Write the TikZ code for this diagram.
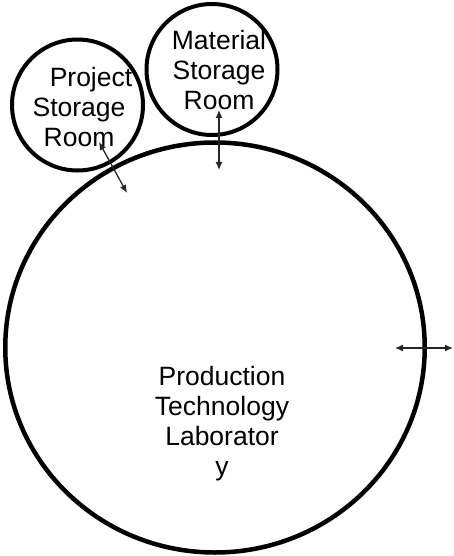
\documentclass[tikz,border=0pt]{standalone}
\usepackage{fontspec}
\setmainfont{Liberation Sans}
\usetikzlibrary{shapes.geometric,arrows.meta}

\tikzset{
  room/.style={draw, circle, line width=4pt, inner sep=0pt, minimum size=131pt},
  roomtext/.style={align=center, inner sep=0pt, font=\fontsize{26.5}{30}\selectfont},
  door/.style={line width=1.3pt, black!85, {Latex[length=8pt,width=7pt]}-{Latex[length=8pt,width=7pt]}}
}

\begin{document}
\begin{tikzpicture}[x=1pt,y=-1pt]

  \useasboundingbox (0,0) rectangle (454,556);

  % the laboratory
  \node[draw, ellipse, line width=4.5pt, inner sep=0pt, minimum width=419.5pt, minimum height=410pt] (lab) at (215,347.5) {};
  \node[roomtext, anchor=base] (labtext) at (222,475) {Production\\Technology\\Laborator\\y};

  % storage rooms
  \node[room] (project) at (77.5,105) {};
  \node[roomtext, anchor=base] (projecttext) at (79,147) {\hspace*{24pt}Project\\Storage\\Room};
  \node[room] (material) at (212,69.5) {};
  \node[roomtext, anchor=base] (materialtext) at (219,110) {Material\\Storage\\Room};

  % doors
  \coordinate (p1) at (99,142);
  \coordinate (p2) at (127,193);
  \coordinate (m1) at (219,110);
  \coordinate (m2) at (219,170);
  \coordinate (e1) at (395,348);
  \coordinate (e2) at (453,348);
  \draw[door] (p1) -- (p2);
  \draw[door] (m1) -- (m2);
  \draw[door] (e1) -- (e2);

\end{tikzpicture}
\end{document}
